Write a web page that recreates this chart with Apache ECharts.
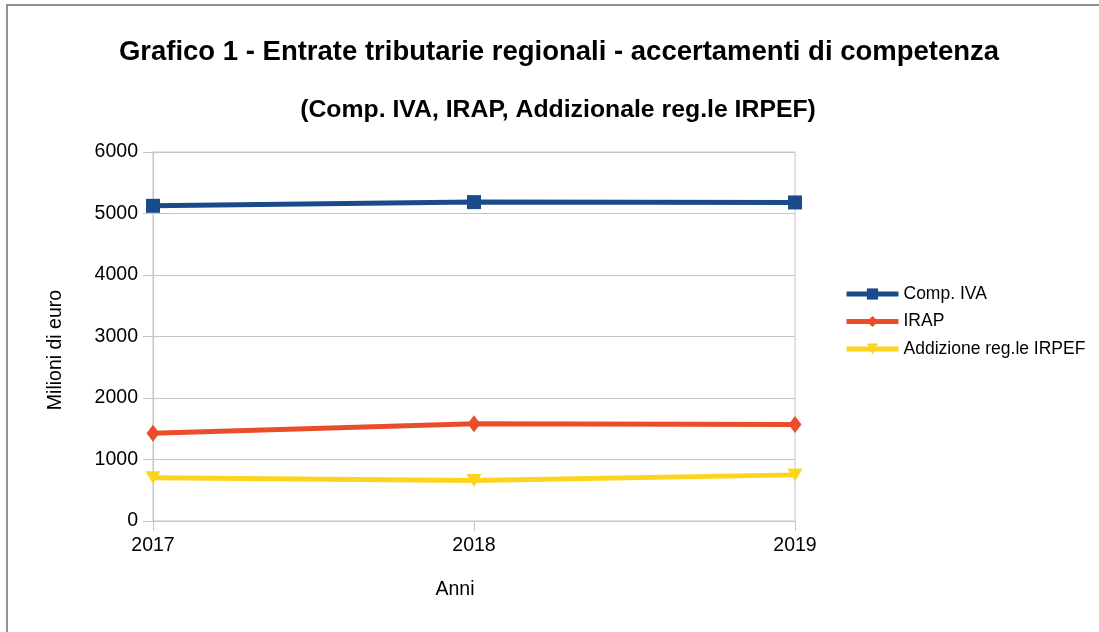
<!DOCTYPE html>
<html lang="it">
<head>
    <meta charset="UTF-8">
    <title>Grafico 1</title>
    <script src="https://cdn.jsdelivr.net/npm/echarts@6/dist/echarts.min.js"></script>
    <style>
        html, body { margin: 0; padding: 0; background: #fff; }
        #chart { width: 1099px; height: 632px; }
    </style>
</head>
<body>
    <div id="chart"></div>
    <script>
        // dati (milioni di euro)
        let anni = ['2017', '2018', '2019'];
        let compIva = [5125, 5185, 5180];
        let irap = [1425, 1580, 1570];
        let addIrpef = [705, 660, 750];
        let nomi = ['Comp. IVA', 'IRAP', 'Addizione reg.le IRPEF'];

        let font = 'Liberation Sans, Arial, sans-serif';
        let gridCol = '#c6c6c6';

        let my_chart = echarts.init(document.getElementById('chart'));
        let option = {
            animation: false,
            backgroundColor: '#fff',
            textStyle: { fontFamily: font },
            title: [{
                text: 'Grafico 1 - Entrate tributarie regionali - accertamenti di competenza',
                left: 554, top: 33, textAlign: 'center',
                textStyle: { fontSize: 27.5, fontWeight: 'bold', color: '#000', fontFamily: font }
            }, {
                text: '(Comp. IVA, IRAP, Addizionale reg.le IRPEF)',
                left: 553, top: 93, textAlign: 'center',
                textStyle: { fontSize: 24.8, fontWeight: 'bold', color: '#000', fontFamily: font }
            }],
            legend: {
                orient: 'vertical',
                left: 844, top: 285, padding: 0,
                itemWidth: 52, itemHeight: 14, itemGap: 9.5,
                lineStyle: { width: 5 },
                textStyle: { fontSize: 17.5, color: '#000', fontFamily: font },
                data: nomi
            },
            grid: {
                left: 153, right: 304, top: 152, bottom: 111,
                show: true, borderColor: gridCol, borderWidth: 1
            },
            xAxis: {
                type: 'category',
                boundaryGap: false,
                data: anni,
                axisLine: { lineStyle: { color: gridCol } },
                axisTick: { length: 10, lineStyle: { color: gridCol } },
                axisLabel: { margin: 15, fontSize: 19.5, color: '#000', fontFamily: font },
                splitLine: { show: false }
            },
            yAxis: {
                type: 'value',
                min: 0, max: 6000, interval: 1000,
                axisLine: { show: true, lineStyle: { color: gridCol } },
                axisTick: { show: true, length: 10, lineStyle: { color: gridCol } },
                axisLabel: {
                    margin: 15, fontSize: 19.5, color: '#000', fontFamily: font,
                    formatter: function (v) { return String(v); }
                },
                splitLine: { lineStyle: { color: gridCol } }
            },
            graphic: [{
                type: 'rect',
                shape: { x: 7, y: 5, width: 1200, height: 700 },
                style: { fill: 'none', stroke: '#6f6f6f', lineWidth: 1.5 },
                silent: true
            }, {
                type: 'text',
                x: 56, y: 350, rotation: Math.PI / 2,
                style: { text: 'Milioni di euro', fill: '#000', font: '19.5px ' + font, align: 'center', verticalAlign: 'middle' }
            }, {
                type: 'text',
                x: 455, y: 590,
                style: { text: 'Anni', fill: '#000', font: '19.5px ' + font, align: 'center', verticalAlign: 'middle' }
            }],
            series: [{
                name: nomi[0],
                type: 'line',
                data: compIva,
                symbol: 'rect', symbolSize: 14,
                lineStyle: { width: 5, color: '#1b4a8a' },
                itemStyle: { color: '#1b4a8a' }
            }, {
                name: nomi[1],
                type: 'line',
                data: irap,
                symbol: 'diamond', symbolSize: [13, 17],
                lineStyle: { width: 5, color: '#ea4d2b' },
                itemStyle: { color: '#ea4d2b' }
            }, {
                name: nomi[2],
                type: 'line',
                data: addIrpef,
                symbol: 'triangle', symbolSize: [15, 13], symbolRotate: 180,
                lineStyle: { width: 5, color: '#fcd41f' },
                itemStyle: { color: '#fcd41f' }
            }]
        };
        my_chart.setOption(option);
    </script>
</body>
</html>
